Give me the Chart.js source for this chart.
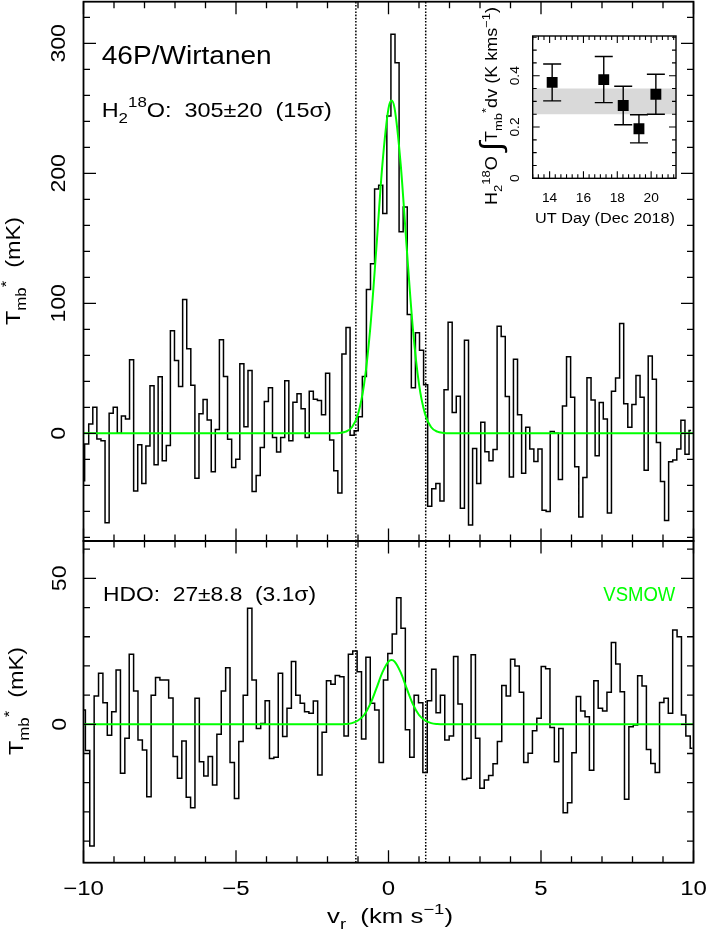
<!DOCTYPE html>
<html>
<head>
<meta charset="utf-8">
<script src="https://cdn.jsdelivr.net/npm/chart.js@4.4.1/dist/chart.umd.min.js"></script>
<style>
  html, body { margin: 0; padding: 0; background: #fff; }
  #wrap { position: relative; width: 706px; height: 930px; background: #fff; }
  #wrap canvas { position: absolute; left: 0; top: 0; }
</style>
</head>
<body>
<div id="wrap">
  <canvas id="topPanel" width="706" height="930"></canvas>
  <canvas id="bottomPanel" width="706" height="930"></canvas>
  <canvas id="insetPanel" width="706" height="930"></canvas>
</div>
<script>
/* ================= DATA ================= */

// H2-18O spectrum (top panel), Tmb* in mK, one value per channel, left to right
const h218oStartVel = -10.03;   // km/s, centre of first channel
const h218oChanWidth = 0.1339;  // km/s
const h218oTemp = [
  -36.5, -8.2, 7.2, 20, -4.4, -5.7, -68.7, 15.4, 20, 0,
  13.4, 11, 56.6, -44.3, -8.8, -38.6, -9.8, 36.6, -24.2, 43.5,
  -21.1, -9.3, 79, 56, 36, 103, 65, 37, -34.5, 15,
  26, 10.3, -29.6, 3, 72, 43.8, -4.6, -26.3, -20, 53.5,
  5.1, 48.4, -44.8, -32.4, -10.8, 24.5, 35, -3.1, -14.4, -3.1,
  40.4, -5.7, 24, 30.4, 19, -3.1, 32.4, 26.3, 25.2, 14.4,
  46.3, -5.1, -28.8, -45.8, 61, 81.5, -1.5, 2, 12.7, 43.8,
  110.7, 130.5, 188, 190.8, 169, 244, 307, 285, 155, 174,
  91.5, 35, 77.3, 64, 37.3, -56, -42.7, -38.6, -52, 33.5,
  85.5, 16, 28.6, -57.7, 71.6, -70.5, -11.6, -38.6, 8.5, -14.2,
  -21.1, -12.4, 82.4, 74.4, 28.3, -33.5, 56.9, 14.4, -30.6, 4.6,
  -12.1, -21.6, -12.1, -59.2, -60.2, 1.5, 0, -35.5, 21.1, 59,
  27.8, -25.7, -64.4, -34, 42.7, 25.7, -17.2, 23.7, 11, -61.3,
  32.4, 42.5, 84.4, 22.7, 4.6, 22.1, 44.5, 27.8, -28.3, 59.5,
  41.7, -7, -37, -67, -21.8, -20.5, -12, 10, -16, 2.2
];

// HDO spectrum (bottom panel), Tmb* in mK
const hdoStartVel = -10.01;
const hdoChanWidth = 0.1437;
const hdoTemp = [
  4.9, -9, -41.7, 9.7, 17.5, 7.4, -3.7, 4.3, 18.6, -16.8,
  -4.8, 24, 11.4, -5.4, -8.8, -24.8, 10, 16, 15.2, 15.2,
  9, -11, -18.5, -5.7, -25, -28.6, 8.9, -12.8, -17.7, -11,
  -20.8, -3.4, 11.4, 19.4, -13.1, -25.4, -5.9, 10, 39.8, 15.2,
  -1.4, 0.3, 8.1, -11.7, -11.3, 17.5, -4.2, 5.5, 21.5, 10,
  7.2, 4.3, 3.8, 8, -17.4, -2.7, 14.9, 13.7, 16.7, 16.3,
  -4, 24, 25.1, 18, -5, 23, 7.2, 4.9, -13.1, 15.2,
  24.3, 30.9, 43.4, 32.9, -1.9, -11.3, 10, 7.4, -16.5, 8.1,
  18.9, 4, 10, -5.4, -4, 23.2, 7, -18.9, -18.5, 23.8,
  -4.8, -21.9, -19.1, -17.5, -13.5, -5.9, 13.3, 9.7, 22.3, 20,
  11, -13.1, -9.9, -2.2, 2.1, 19.8, 19, -1.1, -12.8, -1.4,
  -30.3, -26.9, -9.7, 9.5, 4.6, 2.6, -15.7, 14.9, 5.5, 4.6,
  11, 28, 20.7, 11.2, -25.7, -0.8, -0.2, 16.6, 13.1, -8.6,
  -13.4, -16.5, 7.5, 8.9, 3.8, 32.3, 30, 3.2, -4, -8.2
];

// green model curves
const fitVel   = [-10, -1.8, -1.6, -1.4, -1.2, -1.0, -0.8, -0.6, -0.4, -0.2, 0, 0.1, 0.2, 0.4, 0.6, 0.8, 1.0, 1.2, 1.4, 1.6, 1.8, 2.0, 10];
const h218oFit = [0, 0, 0.3, 1.3, 4.7, 14.7, 37.8, 80.4, 141.8, 206.9, 250, 256, 250, 206.9, 141.8, 80.4, 37.8, 14.7, 4.7, 1.3, 0.3, 0, 0];
const hdoFit   = [0, 0, 0, 0.1, 0.4, 1.3, 3.2, 6.9, 12.2, 17.8, 21.5, 22, 21.5, 17.8, 12.2, 6.9, 3.2, 1.3, 0.4, 0.1, 0, 0, 0];

// integration window (dotted lines)
const windowVel = [-1.07, 1.22];

// inset: integrated H2-18O line area per UT day
const insetDay  = [14.15, 17.2, 18.35, 19.28, 20.28];
const insetArea = [0.374, 0.385, 0.284, 0.193, 0.328];
const insetErr  = [0.072, 0.09, 0.075, 0.055, 0.078];
const insetBand = [0.25, 0.35];

// tick labels
const velTicks = [-10, -5, 0, 5, 10];
const topTempTicks = [0, 100, 200, 300];
const bottomTempTicks = [0, 50];
const dayTicks = [14, 16, 18, 20];
const areaTicks = [0, 0.2, 0.4];

/* ================= HELPERS ================= */

const FONT = '"Liberation Sans", "DejaVu Sans", Arial, sans-serif';
const GREEN = "#00ff00";

function spectrum(start, step, temps) {
  return temps.map((t, i) => ({ x: start + i * step, y: t }));
}

function pairs(xs, ys) {
  return xs.map((x, i) => ({ x: x, y: ys[i] }));
}

function vline(v, lo, hi) {
  return {
    data: [{ x: v, y: lo }, { x: v, y: hi }],
    borderColor: "#000",
    borderWidth: 1.5,
    borderDash: [1.6, 1.6],
    pointRadius: 0,
    order: 2
  };
}

function tickValues(min, max, step) {
  const out = [];
  for (let i = Math.ceil(min / step - 1e-6); i * step <= max + 1e-6; i++) out.push(i * step);
  return out;
}

function isMajor(v, major) {
  return Math.abs(v / major - Math.round(v / major)) < 1e-6;
}

// parts: [[text, kind]] with kind "", "sub", "sup", "big"
function drawText(ctx, parts, x, y, o) {
  ctx.save();
  ctx.translate(x, y);
  if (o.rot) ctx.rotate(o.rot);
  const specs = parts.map(([t, k]) => {
    let s = o.size, dy = 0;
    if (k === "sub") { s = o.size * 0.72; dy = o.size * 0.3; }
    if (k === "sup") { s = o.size * 0.72; dy = -o.size * 0.45; }
    if (k === "big") { s = o.size * 1.9; dy = o.size * 0.25; }
    ctx.font = s + "px " + FONT;
    return { t, s, dy, w: ctx.measureText(t).width };
  });
  const raw = specs.reduce((a, p) => a + p.w, 0);
  const sx = o.width ? o.width / raw : (o.sx || 1);
  ctx.scale(sx, 1);
  let cx = o.align === "center" ? -raw / 2 : o.align === "right" ? -raw : 0;
  ctx.fillStyle = o.color || "#000";
  ctx.textBaseline = "alphabetic";
  specs.forEach(p => {
    ctx.font = p.s + "px " + FONT;
    ctx.fillText(p.t, cx, p.dy);
    cx += p.w;
  });
  ctx.restore();
}

function velLabel(v) {
  return String(v).replace("-", "\u2212");
}

// frame with inward ticks on all four sides + custom text
function framePlugin(opt) {
  return {
    id: "frame",
    afterDatasetsDraw(chart) {
      const { ctx, chartArea: a } = chart;
      const sx = chart.scales.x, sy = chart.scales.y;
      ctx.save();
      ctx.strokeStyle = "#000";
      ctx.lineWidth = opt.tickWidth;
      ctx.beginPath();
      tickValues(sx.min, sx.max, opt.xMinor).forEach(v => {
        const p = sx.getPixelForValue(v);
        const len = isMajor(v, opt.xMajor) ? opt.majorLen : opt.minorLen;
        ctx.moveTo(p, a.bottom); ctx.lineTo(p, a.bottom - len);
        ctx.moveTo(p, a.top); ctx.lineTo(p, a.top + len);
      });
      tickValues(sy.min, sy.max, opt.yMinor).forEach(v => {
        const p = sy.getPixelForValue(v);
        const len = isMajor(v, opt.yMajor) ? opt.majorLen : opt.minorLen;
        ctx.moveTo(a.left, p); ctx.lineTo(a.left + len, p);
        ctx.moveTo(a.right, p); ctx.lineTo(a.right - len, p);
      });
      ctx.stroke();
      ctx.lineWidth = opt.frameWidth;
      ctx.strokeRect(a.left, a.top, a.right - a.left, a.bottom - a.top);
      ctx.restore();
      if (opt.text) opt.text(chart, ctx, sx, sy);
    }
  };
}

function baseOptions(padding, xMin, xMax, yMin, yMax) {
  return {
    responsive: false,
    animation: false,
    devicePixelRatio: 1,
    layout: { padding: padding },
    plugins: { legend: { display: false }, tooltip: { enabled: false } },
    scales: {
      x: { type: "linear", min: xMin, max: xMax, display: false },
      y: { type: "linear", min: yMin, max: yMax, display: false }
    }
  };
}

/* ================= TOP PANEL: H2-18O ================= */

const topMin = -82.8, topMax = 332;

new Chart(document.getElementById("topPanel"), {
  type: "line",
  data: {
    datasets: [
      {
        data: pairs(fitVel, h218oFit),
        borderColor: GREEN,
        borderWidth: 2,
        cubicInterpolationMode: "monotone",
        pointRadius: 0,
        order: 0
      },
      {
        data: spectrum(h218oStartVel, h218oChanWidth, h218oTemp),
        borderColor: "#000",
        borderWidth: 1.5,
        stepped: "middle",
        pointRadius: 0,
        order: 1
      },
      vline(windowVel[0], topMin, topMax),
      vline(windowVel[1], topMin, topMax)
    ]
  },
  options: baseOptions({ left: 83.5, right: 12.5, top: 1.7, bottom: 389 }, -10, 10, topMin, topMax),
  plugins: [framePlugin({
    xMinor: 1, xMajor: 5, yMinor: 20, yMajor: 100,
    majorLen: 12.5, minorLen: 6.5, tickWidth: 1.3, frameWidth: 1.8,
    text(chart, ctx, sx, sy) {
      topTempTicks.forEach(v => {
        drawText(ctx, [[String(v), ""]], 65, sy.getPixelForValue(v), { size: 21, align: "center", rot: -Math.PI / 2, sx: 1.1 });
      });
      drawText(ctx, [["T", ""], ["mb", "sub"], ["*", "sup"], ["  (mK)", ""]], 20, 271, { size: 20, align: "center", rot: -Math.PI / 2, width: 108 });
      drawText(ctx, [["46P/Wirtanen", ""]], 101.7, 63.5, { size: 25, width: 170 });
      drawText(ctx, [["H", ""], ["2", "sub"], ["18", "sup"], ["O:  305\u00b120  (15\u03c3)", ""]], 101.7, 116.7, { size: 21, width: 230 });
    }
  })]
});

/* ================= BOTTOM PANEL: HDO ================= */

const botMin = -47.4, botMax = 62.8;

new Chart(document.getElementById("bottomPanel"), {
  type: "line",
  data: {
    datasets: [
      {
        data: pairs(fitVel, hdoFit),
        borderColor: GREEN,
        borderWidth: 2,
        cubicInterpolationMode: "monotone",
        pointRadius: 0,
        order: 0
      },
      {
        data: spectrum(hdoStartVel, hdoChanWidth, hdoTemp),
        borderColor: "#000",
        borderWidth: 1.5,
        stepped: "middle",
        pointRadius: 0,
        order: 1
      },
      vline(windowVel[0], botMin, botMax),
      vline(windowVel[1], botMin, botMax)
    ]
  },
  options: baseOptions({ left: 83.5, right: 12.5, top: 541, bottom: 67.3 }, -10, 10, botMin, botMax),
  plugins: [framePlugin({
    xMinor: 1, xMajor: 5, yMinor: 10, yMajor: 50,
    majorLen: 12.5, minorLen: 6.5, tickWidth: 1.3, frameWidth: 1.8,
    text(chart, ctx, sx, sy) {
      bottomTempTicks.forEach(v => {
        drawText(ctx, [[String(v), ""]], 65.5, sy.getPixelForValue(v), { size: 21, align: "center", rot: -Math.PI / 2, sx: 1.1 });
      });
      velTicks.forEach(v => {
        drawText(ctx, [[velLabel(v), ""]], sx.getPixelForValue(v), 895, { size: 20, align: "center", sx: 1.2 });
      });
      drawText(ctx, [["T", ""], ["mb", "sub"], ["*", "sup"], ["  (mK)", ""]], 23, 701, { size: 20, align: "center", rot: -Math.PI / 2, width: 108 });
      drawText(ctx, [["v", ""], ["r", "sub"], ["  (km s", ""], ["\u22121", "sup"], [")", ""]], 390, 922.5, { size: 20, align: "center", width: 126 });
      drawText(ctx, [["HDO:  27\u00b18.8  (3.1\u03c3)", ""]], 103, 600.7, { size: 20, width: 213 });
      drawText(ctx, [["VSMOW", ""]], 603.3, 600.7, { size: 21, width: 72, color: GREEN });
    }
  })]
});

/* ================= INSET: LINE AREA VS DAY ================= */

const errorBars = {
  id: "errorBars",
  afterDatasetsDraw(chart) {
    const { ctx } = chart;
    const sx = chart.scales.x, sy = chart.scales.y;
    ctx.save();
    ctx.strokeStyle = "#000";
    ctx.lineWidth = 1.4;
    ctx.beginPath();
    insetDay.forEach((d, i) => {
      const px = sx.getPixelForValue(d);
      const hi = sy.getPixelForValue(insetArea[i] + insetErr[i]);
      const lo = sy.getPixelForValue(insetArea[i] - insetErr[i]);
      ctx.moveTo(px, hi); ctx.lineTo(px, lo);
      ctx.moveTo(px - 9, hi); ctx.lineTo(px + 9, hi);
      ctx.moveTo(px - 9, lo); ctx.lineTo(px + 9, lo);
    });
    ctx.stroke();
    ctx.restore();
  }
};

const dayMin = 13, dayMax = 21.47;

new Chart(document.getElementById("insetPanel"), {
  type: "scatter",
  data: {
    datasets: [
      {
        type: "line",
        data: [{ x: dayMin, y: insetBand[1] }, { x: dayMax, y: insetBand[1] }],
        fill: { value: insetBand[0] },
        backgroundColor: "#d9d9d9",
        borderWidth: 0,
        pointRadius: 0,
        order: 3
      },
      {
        data: pairs(insetDay, insetArea),
        pointStyle: "rect",
        pointRadius: 7.7,
        backgroundColor: "#000",
        borderWidth: 0,
        order: 0
      }
    ]
  },
  options: baseOptions({ left: 532.7, right: 30, top: 36, bottom: 751.7 }, dayMin, dayMax, 0, 0.555),
  plugins: [errorBars, framePlugin({
    xMinor: 1 / 3, xMajor: 2, yMinor: 0.05, yMajor: 0.2,
    majorLen: 7, minorLen: 4, tickWidth: 1.1, frameWidth: 1.4,
    text(chart, ctx, sx, sy) {
      dayTicks.forEach(v => {
        drawText(ctx, [[String(v), ""]], sx.getPixelForValue(v), 202, { size: 12.5, align: "center", sx: 1.1 });
      });
      areaTicks.forEach(v => {
        drawText(ctx, [[String(v), ""]], 519, sy.getPixelForValue(v), { size: 12.5, align: "center", rot: -Math.PI / 2, sx: 1.1 });
      });
      drawText(ctx, [["UT Day (Dec 2018)", ""]], 605, 223, { size: 14, align: "center", width: 140 });
      drawText(ctx, [["H", ""], ["2", "sub"], ["18", "sup"], ["O ", ""], ["\u222b", "big"], ["T", ""], ["mb", "sub"], ["*", "sup"], ["dv (K kms", ""], ["\u22121", "sup"], [")", ""]],
        497, 106, { size: 16, align: "center", rot: -Math.PI / 2, width: 198 });
    }
  })]
});
</script>
</body>
</html>
